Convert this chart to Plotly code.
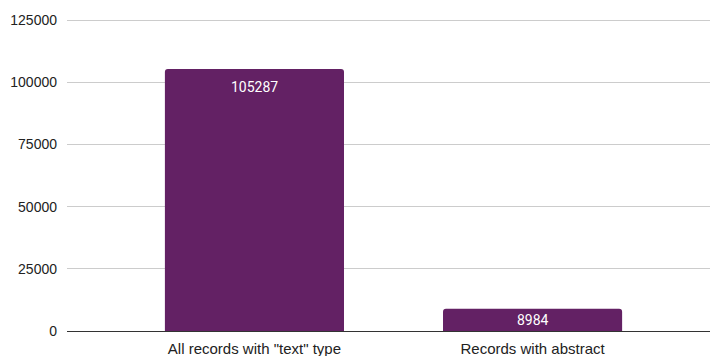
import plotly.graph_objects as go

categories = ['All records with "text" type', 'Records with abstract']
values = [105287, 8984]
y_ticks = [0, 25000, 50000, 75000, 100000, 125000]

fig = go.Figure(go.Bar(
    x=categories, y=values,
    marker=dict(color="#632164", line=dict(width=0)),
    width=0.644, hoverinfo="x+y",
))

vmax = max(values)
for c, v in zip(categories, values):
    if v < 0.15 * vmax:
        fig.add_annotation(x=c, y=v / 2, text=str(v), showarrow=False, yanchor="middle",
                           font=dict(color="white", size=14, family="Roboto, Arial, sans-serif"))
    else:
        fig.add_annotation(x=c, y=v, text=str(v), showarrow=False, yanchor="top", yshift=-8,
                           font=dict(color="white", size=14, family="Roboto, Arial, sans-serif"))

fig.update_layout(
    width=710, height=356,
    margin=dict(l=67, r=0, t=14, b=25),
    plot_bgcolor="white", paper_bgcolor="white",
    showlegend=False, barcornerradius=3,
    font=dict(family="Arial, Liberation Sans, sans-serif", size=14, color="#222222"),
)
fig.update_xaxes(range=[-0.674, 1.638], showgrid=False, showline=False, ticks="",
                 automargin=False, ticklabelstandoff=7,
                 tickfont=dict(size=15, color="#222222"))
fig.update_yaxes(range=[0, 127412], tickvals=y_ticks, ticktext=[str(t) for t in y_ticks],
                 showgrid=True, gridcolor="#cccccc", gridwidth=1, zeroline=True,
                 zerolinecolor="#333333", zerolinewidth=1, ticks="", ticklabelstandoff=9,
                 automargin=False, tickfont=dict(size=14, color="#222222"))
fig.write_html("out.html")
